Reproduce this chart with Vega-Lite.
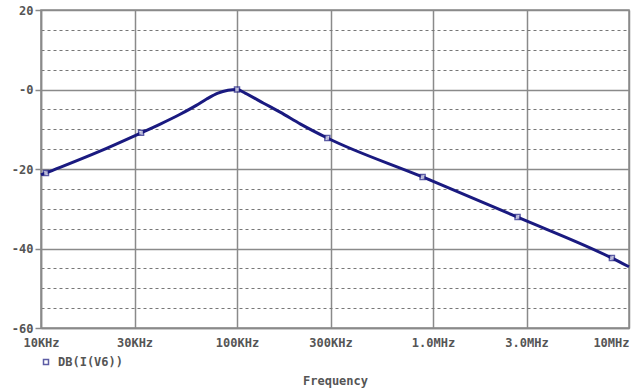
{
  "$schema": "https://vega.github.io/schema/vega-lite/v6.json",
  "width": 588,
  "height": 318,
  "autosize": {"type": "none"},
  "padding": {"left": 41, "top": 10, "right": 6, "bottom": 63},
  "background": "white",
  "config": {
    "view": {"stroke": "#8a8a8a", "strokeWidth": 1.5},
    "font": "DejaVu Sans Mono"
  },
  "data": {
    "values": [
      {"f": 10000, "db": -21.5, "m": false, "s": "DB(I(V6))"},
      {"f": 10600, "db": -21.0, "m": true, "s": "DB(I(V6))"},
      {"f": 20000, "db": -15.5, "m": false, "s": "DB(I(V6))"},
      {"f": 32400, "db": -10.9, "m": true, "s": "DB(I(V6))"},
      {"f": 40600, "db": -8.7, "m": false, "s": "DB(I(V6))"},
      {"f": 51000, "db": -6.3, "m": false, "s": "DB(I(V6))"},
      {"f": 62000, "db": -4.0, "m": false, "s": "DB(I(V6))"},
      {"f": 70000, "db": -2.4, "m": false, "s": "DB(I(V6))"},
      {"f": 80000, "db": -0.9, "m": false, "s": "DB(I(V6))"},
      {"f": 90000, "db": -0.2, "m": false, "s": "DB(I(V6))"},
      {"f": 100000, "db": 0.0, "m": true, "s": "DB(I(V6))"},
      {"f": 110000, "db": -0.9, "m": false, "s": "DB(I(V6))"},
      {"f": 136000, "db": -3.4, "m": false, "s": "DB(I(V6))"},
      {"f": 166000, "db": -5.7, "m": false, "s": "DB(I(V6))"},
      {"f": 211000, "db": -8.7, "m": false, "s": "DB(I(V6))"},
      {"f": 289000, "db": -12.2, "m": true, "s": "DB(I(V6))"},
      {"f": 885000, "db": -22.0, "m": true, "s": "DB(I(V6))"},
      {"f": 2700000, "db": -32.1, "m": true, "s": "DB(I(V6))"},
      {"f": 8180000, "db": -42.4, "m": true, "s": "DB(I(V6))"},
      {"f": 10000000, "db": -44.6, "m": false, "s": "DB(I(V6))"}
    ]
  },
  "encoding": {
    "x": {
      "field": "f",
      "type": "quantitative",
      "scale": {"type": "log", "domain": [10000, 10000000], "nice": false},
      "axis": {
        "title": "Frequency",
        "titleFont": "DejaVu Sans Mono",
        "titleFontSize": 12,
        "titleFontWeight": "bold",
        "titleColor": "#555555",
        "titlePadding": 27,
        "values": [10000, 30000, 100000, 300000, 1000000, 3000000, 10000000],
        "labelExpr": "datum.value < 15000 ? '10KHz' : datum.value < 50000 ? '30KHz' : datum.value < 150000 ? '100KHz' : datum.value < 500000 ? '300KHz' : datum.value < 1500000 ? '1.0MHz' : datum.value < 5000000 ? '3.0MHz' : '10MHz'",
        "labelFont": "DejaVu Sans Mono",
        "labelFontSize": 12,
        "labelFontWeight": "bold",
        "labelColor": "#555555",
        "labelPadding": 9,
        "labelAlign": {"condition": {"test": "datum.value > 5000000", "value": "right"}, "value": "center"},
        "labelOverlap": false,
        "ticks": false,
        "domainColor": "#8a8a8a",
        "domainWidth": 1.5,
        "grid": true,
        "gridColor": "#8a8a8a",
        "gridWidth": 1.5
      }
    },
    "y": {
      "field": "db",
      "type": "quantitative",
      "scale": {"domain": [-60, 20], "nice": false, "zero": false},
      "axis": {
        "title": null,
        "values": [-60, -55, -50, -45, -40, -35, -30, -25, -20, -15, -10, -5, 0, 5, 10, 15, 20],
        "labelExpr": "datum.value === 0 ? '-0' : (datum.value % 20 === 0 ? toString(datum.value) : '')",
        "labelFont": "DejaVu Sans Mono",
        "labelFontSize": 12,
        "labelFontWeight": "bold",
        "labelColor": "#555555",
        "labelPadding": 2,
        "tickSize": 6,
        "tickColor": "#8a8a8a",
        "tickWidth": 1.5,
        "tickOpacity": {"condition": {"test": "datum.value % 20 === 0", "value": 1}, "value": 0},
        "domainColor": "#8a8a8a",
        "domainWidth": 1.5,
        "grid": true,
        "gridColor": {"condition": {"test": "datum.value % 20 === 0", "value": "#8a8a8a"}, "value": "#777777"},
        "gridWidth": {"condition": {"test": "datum.value % 20 === 0", "value": 1.5}, "value": 1},
        "gridDash": {"condition": {"test": "datum.value % 20 === 0", "value": []}, "value": [3, 3]}
      }
    }
  },
  "layer": [
    {
      "mark": {"type": "line", "strokeWidth": 3, "interpolate": "monotone"},
      "encoding": {
        "color": {
          "field": "s",
          "type": "nominal",
          "scale": {"range": ["#1a1a80"]},
          "legend": null
        }
      }
    },
    {
      "transform": [{"filter": "datum.m"}],
      "mark": {"type": "point", "shape": "square", "size": 25, "filled": true, "fill": "white", "strokeWidth": 1.5},
      "encoding": {
        "stroke": {
          "field": "s",
          "type": "nominal",
          "scale": {"range": ["#1a1a80"]},
          "legend": {
            "title": null,
            "orient": "none",
            "legendX": -1,
            "legendY": 346,
            "symbolType": "square",
            "symbolSize": 25,
            "symbolStrokeWidth": 1.5,
            "symbolFillColor": "white",
            "labelFont": "DejaVu Sans Mono",
            "labelFontSize": 12,
            "labelFontWeight": "bold",
            "labelColor": "#555555",
            "labelOffset": 6
          }
        }
      }
    }
  ]
}
